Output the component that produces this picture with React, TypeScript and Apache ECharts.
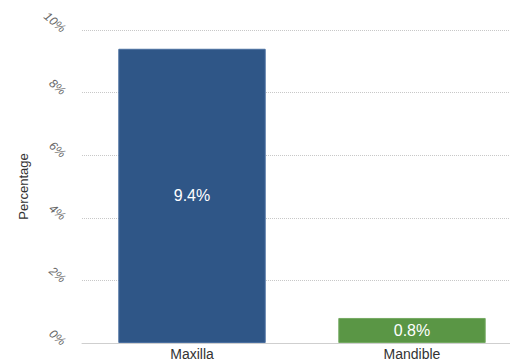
import React, { useEffect, useRef } from "react";
import * as echarts from "echarts";

const categories = ["Maxilla", "Mandible"];
const values = [9.4, 0.8];
const barColors = ["#2F5687", "#5A9645"];
const yTicks = [0, 2, 4, 6, 8, 10];

export default function App() {
  const ref = useRef<HTMLDivElement>(null);
  useEffect(() => {
    if (!ref.current) return;
    const chart = echarts.init(ref.current, null, { renderer: "svg" });
    chart.setOption({
      animation: false,
      backgroundColor: "#ffffff",
      grid: { left: 82, top: 30, right: 0, bottom: 19, containLabel: false },
      xAxis: {
        type: "category",
        data: categories,
        axisLine: { show: true, lineStyle: { color: "#cfcfcf", width: 1 } },
        axisTick: { show: false },
        axisLabel: { color: "#333", fontSize: 14, margin: 4, fontFamily: "Liberation Sans, Arial, sans-serif" },
      },
      yAxis: {
        type: "value",
        min: yTicks[0],
        max: yTicks[yTicks.length - 1],
        interval: 2,
        name: "Percentage",
        nameLocation: "middle",
        nameGap: 52,
        nameRotate: 90,
        nameTextStyle: { color: "#333", fontSize: 13, fontFamily: "Liberation Sans, Arial, sans-serif" },
        axisLine: { show: false },
        axisTick: { show: false },
        axisLabel: {
          formatter: (v: number) => v + "%",
          rotate: -40,
          color: "#666",
          fontSize: 12,
          fontStyle: "italic",
          margin: 18,
          fontFamily: "Liberation Sans, Arial, sans-serif",
        },
        splitLine: { show: true, lineStyle: { color: "#c8c8c8", type: "dotted", width: 1 } },
      },
      series: [
        {
          type: "bar",
          barWidth: "67%",
          data: values.map((v, i) => ({
            value: v,
            itemStyle: { color: barColors[i], borderColor: i === 0 ? "#4a6fa0" : "#74aa62", borderWidth: 1 },
          })),
          label: {
            show: true,
            position: "inside",
            formatter: (p: any) => p.value + "%",
            color: "#ffffff",
            fontSize: 16,
            fontFamily: "Liberation Sans, Arial, sans-serif",
          },
        },
      ],
    });
    return () => chart.dispose();
  }, []);
  return (
    <div style={{ position: "fixed", left: 0, top: 0, width: 510, height: 362, overflow: "hidden" }}>
      <div ref={ref} style={{ width: 522, height: 362 }} />
    </div>
  );
}
